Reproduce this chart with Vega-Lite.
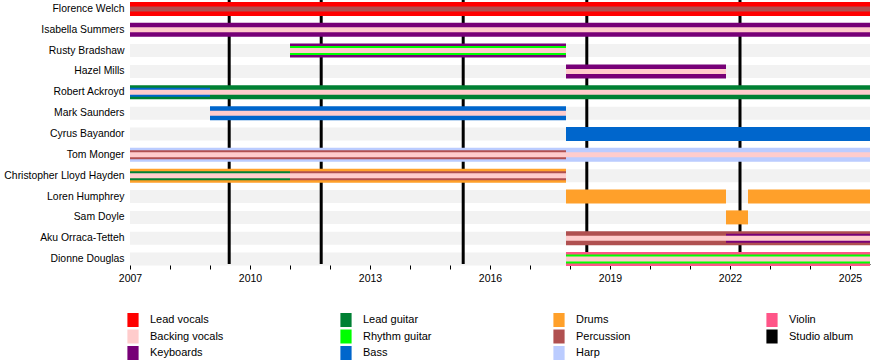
{
  "$schema": "https://vega.github.io/schema/vega-lite/v6.json",
  "width": 740,
  "height": 264,
  "autosize": {"type": "none"},
  "padding": {"left": 130, "top": 0, "right": 20, "bottom": 100},
  "config": {
    "view": {"stroke": null},
    "font": "Liberation Sans"
  },
  "datasets": {
    "members": [
      {"member": "Florence Welch", "start": 2007, "end": 2025.5},
      {"member": "Isabella Summers", "start": 2007, "end": 2025.5},
      {"member": "Rusty Bradshaw", "start": 2007, "end": 2025.5},
      {"member": "Hazel Mills", "start": 2007, "end": 2025.5},
      {"member": "Robert Ackroyd", "start": 2007, "end": 2025.5},
      {"member": "Mark Saunders", "start": 2007, "end": 2025.5},
      {"member": "Cyrus Bayandor", "start": 2007, "end": 2025.5},
      {"member": "Tom Monger", "start": 2007, "end": 2025.5},
      {"member": "Christopher Lloyd Hayden", "start": 2007, "end": 2025.5},
      {"member": "Loren Humphrey", "start": 2007, "end": 2025.5},
      {"member": "Sam Doyle", "start": 2007, "end": 2025.5},
      {"member": "Aku Orraca-Tetteh", "start": 2007, "end": 2025.5},
      {"member": "Dionne Douglas", "start": 2007, "end": 2025.5}
    ],
    "albums": [
      {"album": "Lungs", "date": 2009.48},
      {"album": "Ceremonials", "date": 2011.78},
      {"album": "How Big, How Blue, How Beautiful", "date": 2015.33},
      {"album": "High as Hope", "date": 2018.42},
      {"album": "Dance Fever", "date": 2022.25}
    ],
    "bars": [
      {"member": "Florence Welch", "role": "Lead vocals", "start": 2007, "end": 2025.5, "layer": "outer"},
      {"member": "Florence Welch", "role": "Percussion", "start": 2007, "end": 2025.5, "layer": "center"},
      {"member": "Isabella Summers", "role": "Keyboards", "start": 2007, "end": 2025.5, "layer": "outer"},
      {"member": "Isabella Summers", "role": "Backing vocals", "start": 2007, "end": 2025.5, "layer": "center"},
      {"member": "Rusty Bradshaw", "role": "Keyboards", "start": 2011, "end": 2017.9, "layer": "outer"},
      {"member": "Rusty Bradshaw", "role": "Rhythm guitar", "start": 2011, "end": 2017.9, "layer": "inner"},
      {"member": "Rusty Bradshaw", "role": "Backing vocals", "start": 2011, "end": 2017.9, "layer": "center"},
      {"member": "Hazel Mills", "role": "Keyboards", "start": 2017.9, "end": 2021.9, "layer": "outer"},
      {"member": "Hazel Mills", "role": "Backing vocals", "start": 2017.9, "end": 2021.9, "layer": "center"},
      {"member": "Robert Ackroyd", "role": "Lead guitar", "start": 2007, "end": 2025.5, "layer": "outer"},
      {"member": "Robert Ackroyd", "role": "Bass", "start": 2007, "end": 2009, "layer": "inner"},
      {"member": "Robert Ackroyd", "role": "Backing vocals", "start": 2007, "end": 2025.5, "layer": "center"},
      {"member": "Mark Saunders", "role": "Bass", "start": 2009, "end": 2017.9, "layer": "outer"},
      {"member": "Mark Saunders", "role": "Backing vocals", "start": 2009, "end": 2017.9, "layer": "center"},
      {"member": "Cyrus Bayandor", "role": "Bass", "start": 2017.9, "end": 2025.5, "layer": "outer"},
      {"member": "Tom Monger", "role": "Harp", "start": 2007, "end": 2025.5, "layer": "outer"},
      {"member": "Tom Monger", "role": "Percussion", "start": 2007, "end": 2017.9, "layer": "inner"},
      {"member": "Tom Monger", "role": "Backing vocals", "start": 2007, "end": 2025.5, "layer": "center"},
      {"member": "Christopher Lloyd Hayden", "role": "Drums", "start": 2007, "end": 2017.9, "layer": "outer"},
      {"member": "Christopher Lloyd Hayden", "role": "Lead guitar", "start": 2007, "end": 2011, "layer": "inner"},
      {"member": "Christopher Lloyd Hayden", "role": "Percussion", "start": 2011, "end": 2017.9, "layer": "inner"},
      {"member": "Christopher Lloyd Hayden", "role": "Backing vocals", "start": 2007, "end": 2017.9, "layer": "center"},
      {"member": "Loren Humphrey", "role": "Drums", "start": 2017.9, "end": 2021.9, "layer": "outer"},
      {"member": "Loren Humphrey", "role": "Drums", "start": 2022.45, "end": 2025.5, "layer": "outer"},
      {"member": "Sam Doyle", "role": "Drums", "start": 2021.9, "end": 2022.45, "layer": "outer"},
      {"member": "Aku Orraca-Tetteh", "role": "Percussion", "start": 2017.9, "end": 2025.5, "layer": "outer"},
      {"member": "Aku Orraca-Tetteh", "role": "Keyboards", "start": 2021.9, "end": 2025.5, "layer": "inner"},
      {"member": "Aku Orraca-Tetteh", "role": "Backing vocals", "start": 2017.9, "end": 2025.5, "layer": "center"},
      {"member": "Dionne Douglas", "role": "Violin", "start": 2017.9, "end": 2025.5, "layer": "outer"},
      {"member": "Dionne Douglas", "role": "Rhythm guitar", "start": 2017.9, "end": 2025.5, "layer": "inner"},
      {"member": "Dionne Douglas", "role": "Backing vocals", "start": 2017.9, "end": 2025.5, "layer": "center"}
    ]
  },
  "layer": [
    {
      "data": {"name": "members"},
      "mark": {"type": "bar", "height": 13, "color": "#f2f2f2"},
      "encoding": {
        "y": {"field": "member", "type": "nominal", "sort": null, "title": null,
          "scale": {"domain": ["Florence Welch","Isabella Summers","Rusty Bradshaw","Hazel Mills","Robert Ackroyd","Mark Saunders","Cyrus Bayandor","Tom Monger","Christopher Lloyd Hayden","Loren Humphrey","Sam Doyle","Aku Orraca-Tetteh","Dionne Douglas"], "range": [-1.5, 269.5], "paddingInner": 0, "paddingOuter": 0},
          "axis": {"title": null, "ticks": false, "domain": false, "labelFontSize": 10.4, "labelColor": "black", "labelPadding": 6, "labelLimit": 250}},
        "x": {"field": "start", "type": "quantitative", "title": null,
          "scale": {"domain": [2007, 2025.5], "nice": false, "zero": false},
          "axis": {"title": null, "values": [2007,2008,2009,2010,2011,2012,2013,2014,2015,2016,2017,2018,2019,2020,2021,2022,2023,2024,2025], "format": "d", "labelExpr": "(datum.value - 2007) % 3 == 0 ? datum.label : ''", "labelOverlap": false, "labelFlush": false, "grid": false, "domainColor": "black", "tickColor": "black", "labelColor": "black", "labelFontSize": 10.5, "tickSize": 5, "labelPadding": 4}},
        "x2": {"field": "end"}
      }
    },
    {
      "data": {"name": "albums"},
      "mark": {"type": "rule", "color": "black", "strokeWidth": 3},
      "encoding": {
        "x": {"field": "date", "type": "quantitative", "title": null}
      }
    },
    {
      "data": {"name": "bars"},
      "transform": [{"filter": "datum.layer == 'outer'"}],
      "mark": {"type": "bar", "height": 14},
      "encoding": {
        "y": {"field": "member", "type": "nominal", "sort": null, "title": null},
        "x": {"field": "start", "type": "quantitative", "title": null},
        "x2": {"field": "end"},
        "color": {"field": "role", "type": "nominal",
          "scale": {
            "domain": ["Lead vocals","Backing vocals","Keyboards","Lead guitar","Rhythm guitar","Bass","Drums","Percussion","Harp","Violin","Studio album"],
            "range": ["#ff0000","#ffcccc","#770077","#008033","#00ff00","#0066cc","#ffa02a","#b05050","#bbccff","#ff5588","#000000"]
          },
          "legend": {"title": null, "orient": "none", "legendX": -4, "legendY": 313, "columns": 4, "symbolType": "M-0.8,-1H0.8V1H-0.8Z", "symbolSize": 196, "symbolStrokeWidth": 0, "symbolOpacity": 1, "labelFontSize": 11, "labelColor": "black", "labelOffset": 10, "columnPadding": 115, "rowPadding": 2.5, "gridAlign": "all"}
        }
      }
    },
    {
      "data": {"name": "bars"},
      "transform": [{"filter": "datum.layer == 'inner'"}],
      "mark": {"type": "bar", "height": 9},
      "encoding": {
        "y": {"field": "member", "type": "nominal", "sort": null, "title": null},
        "x": {"field": "start", "type": "quantitative", "title": null},
        "x2": {"field": "end"},
        "color": {"field": "role", "type": "nominal"}
      }
    },
    {
      "data": {"name": "bars"},
      "transform": [{"filter": "datum.layer == 'center'"}],
      "mark": {"type": "bar", "height": 5},
      "encoding": {
        "y": {"field": "member", "type": "nominal", "sort": null, "title": null},
        "x": {"field": "start", "type": "quantitative", "title": null},
        "x2": {"field": "end"},
        "color": {"field": "role", "type": "nominal"}
      }
    }
  ]
}
